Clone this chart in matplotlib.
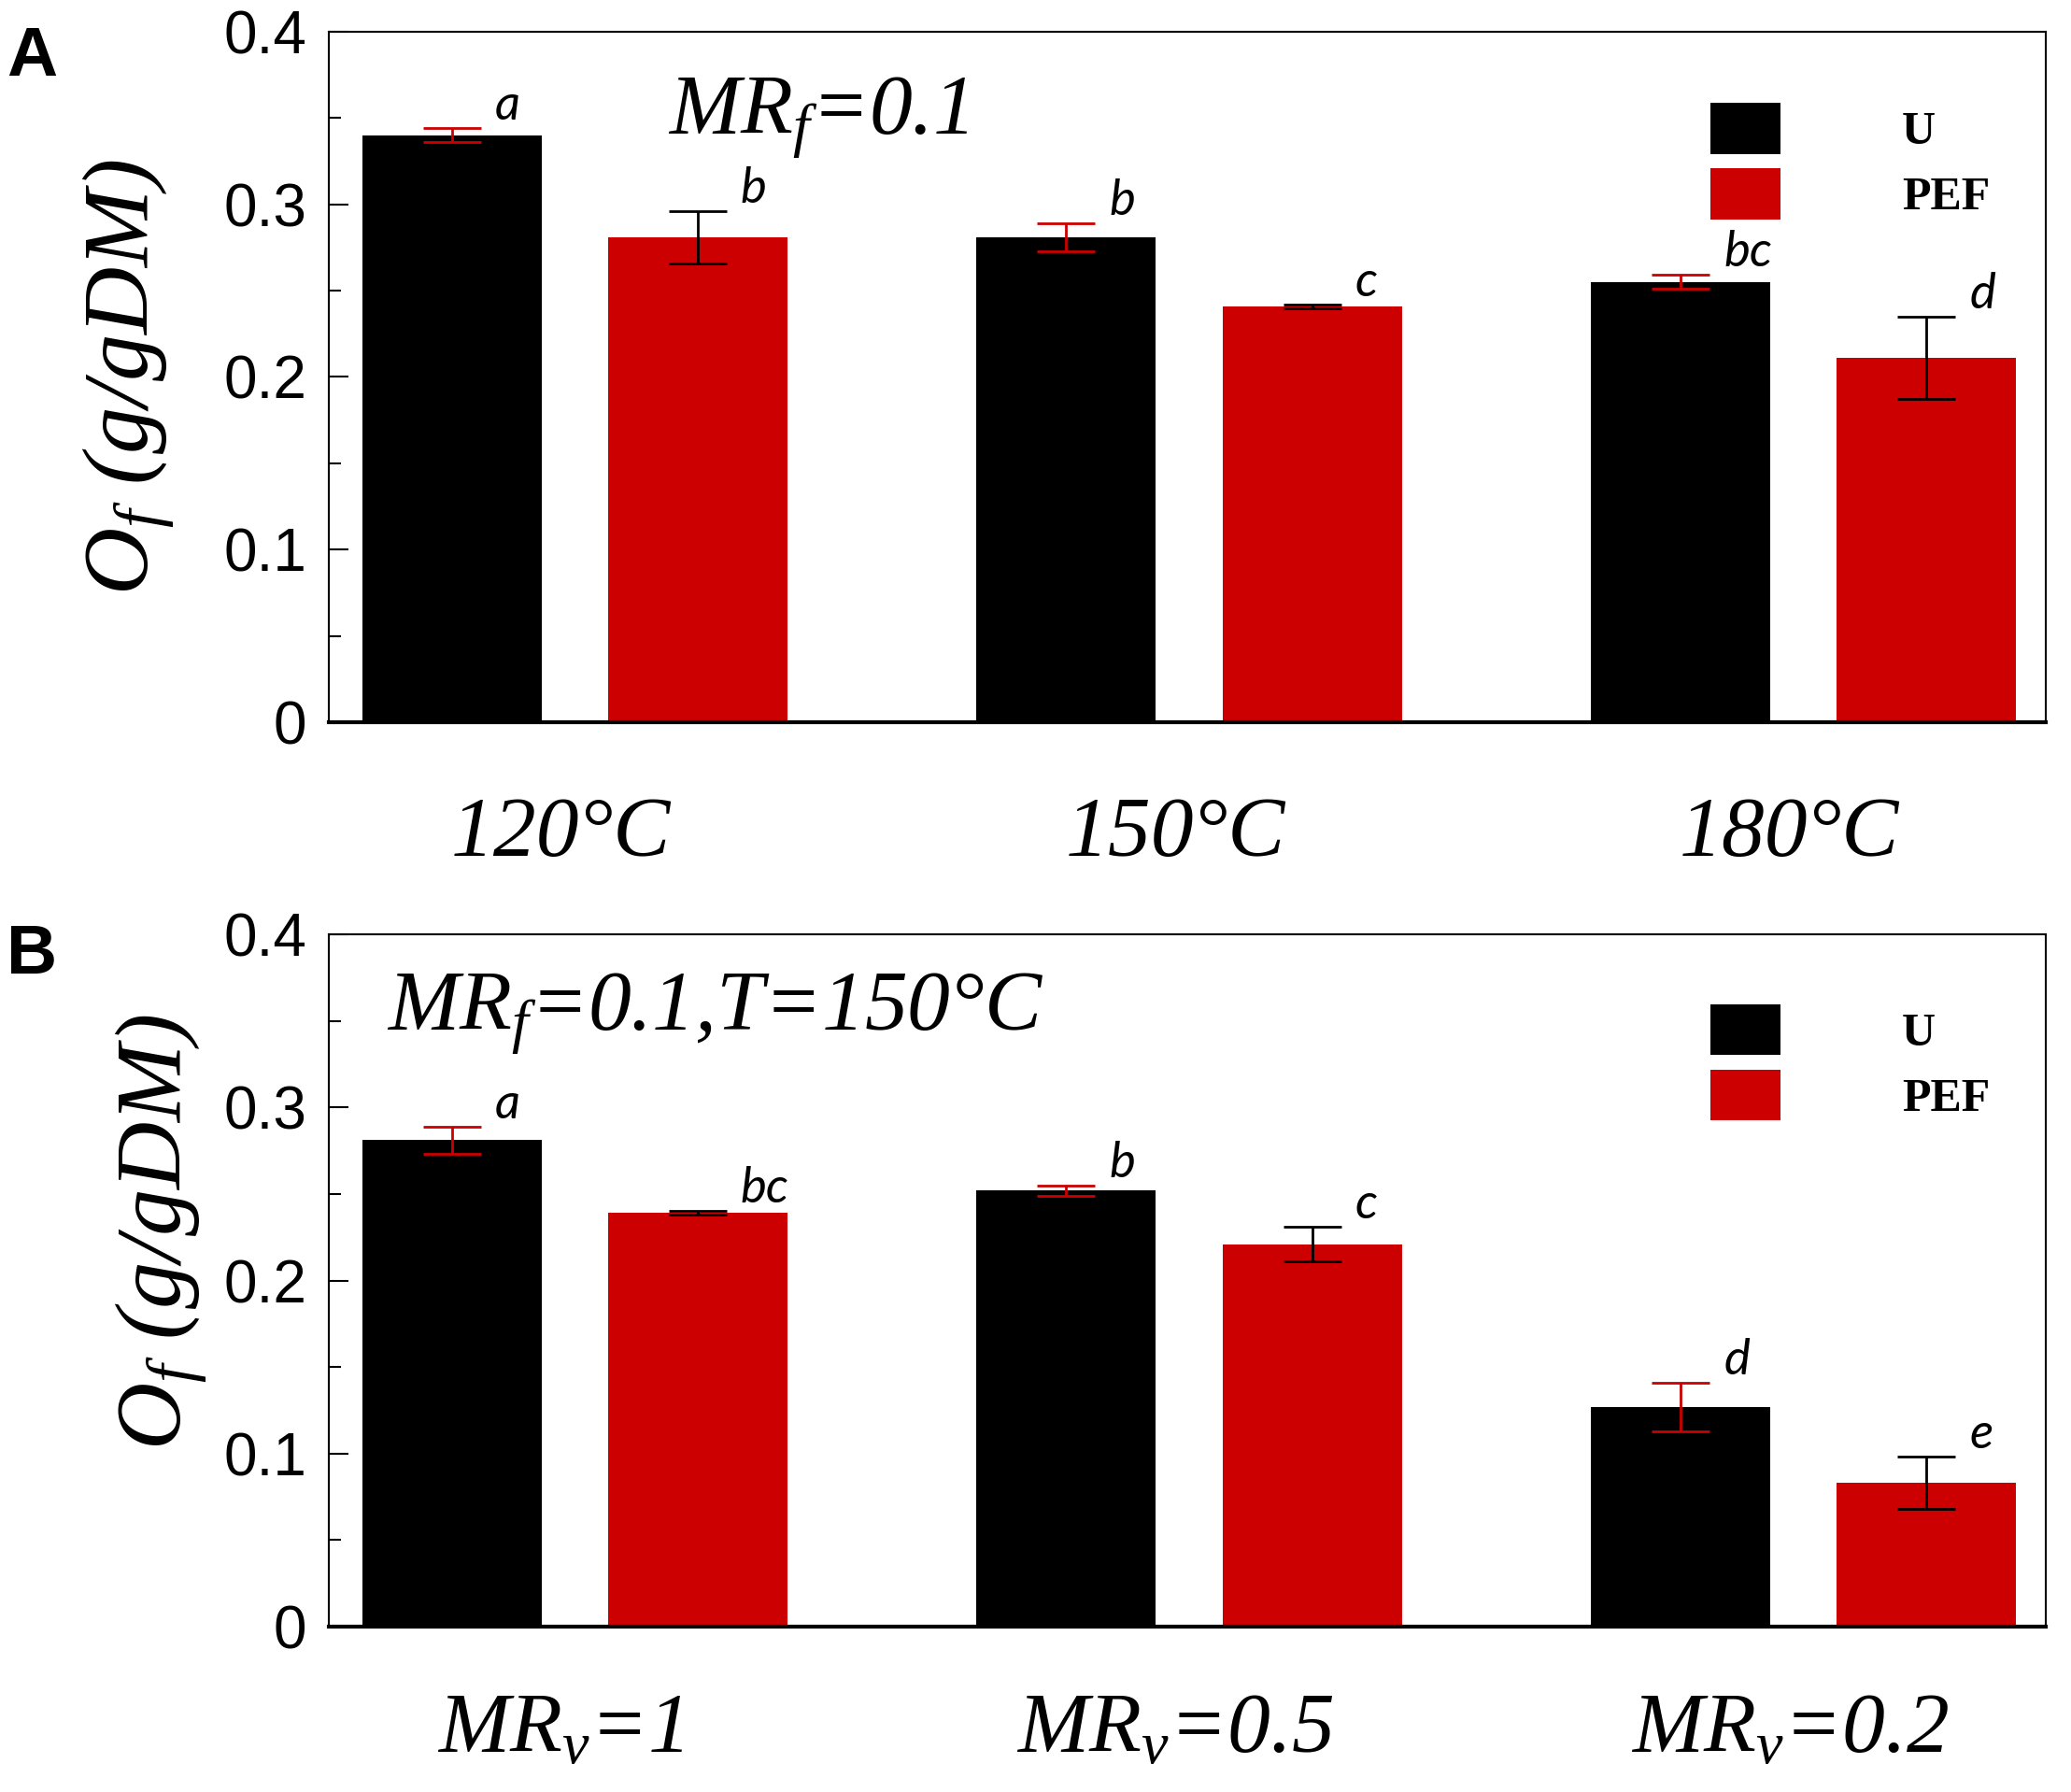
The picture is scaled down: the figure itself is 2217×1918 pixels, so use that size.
import matplotlib.pyplot as plt
import matplotlib.transforms as mtransforms
import numpy as np
from matplotlib.ticker import MultipleLocator

plt.rcParams["font.family"] = ["Liberation Sans", "DejaVu Sans"]
plt.rcParams["mathtext.fontset"] = "custom"
plt.rcParams["mathtext.rm"] = "Liberation Serif:italic"
plt.rcParams["mathtext.it"] = "Liberation Serif:italic"

# --- data ---
series = ["U", "PEF"]
bar_colors = ["#000000", "#cc0000"]
err_colors = ["#cc0000", "#000000"]

cats_a = ["120°C", "150°C", "180°C"]
u_a = [0.340, 0.281, 0.255]
u_err_a = [0.004, 0.008, 0.004]
pef_a = [0.281, 0.241, 0.211]
pef_err_a = [0.015, 0.001, 0.024]
letters_u_a = ["a", "b", "bc"]
letters_pef_a = ["b", "c", "d"]

cats_b = [r"$MR_v$=1", r"$MR_v$=0.5", r"$MR_v$=0.2"]
u_b = [0.281, 0.252, 0.127]
u_err_b = [0.008, 0.003, 0.014]
pef_b = [0.239, 0.221, 0.083]
pef_err_b = [0.001, 0.010, 0.015]
letters_u_b = ["a", "b", "d"]
letters_pef_b = ["bc", "c", "e"]

ytick_vals = [0, 0.1, 0.2, 0.3, 0.4]
ytick_labels = ["0", "0.1", "0.2", "0.3", "0.4"]

SERIF_IT = {"family": "Liberation Serif", "style": "italic"}


def draw_panel(ax, cats, u, u_err, pef, pef_err, let_u, let_pef,
               note, note_xy, xpad, ylab_xy, leg_y):
    x = np.arange(len(cats))
    width = 0.292
    groups = [(u, u_err, let_u, -0.2), (pef, pef_err, let_pef, 0.2)]
    for (vals, errs, lets, dx), name, bc, ec in zip(groups, series,
                                                    bar_colors, err_colors):
        ax.bar(x + dx, vals, width, color=bc, label=name, zorder=2)
        ax.errorbar(x + dx, vals, yerr=errs, fmt="none", ecolor=ec,
                    elinewidth=2, capsize=22, capthick=2, zorder=3)
        for xi, v, e, t in zip(x + dx, vals, errs, lets):
            ax.text(xi + 0.07, v + e + 0.013, t, ha="left", va="center",
                    fontsize=38, family="Lato", style="italic")

    ax.set_xlim(-0.40, 2.394)
    ax.set_ylim(0, 0.4)
    ax.set_yticks(ytick_vals, ytick_labels)
    ax.yaxis.set_minor_locator(MultipleLocator(0.05))
    ax.tick_params(axis="y", which="both", direction="in", right=False,
                   labelsize=46, pad=17, width=1.5)
    ax.tick_params(axis="y", which="major", length=15)
    ax.tick_params(axis="y", which="minor", length=9)
    ax.set_xticks(x, cats, fontsize=66, **SERIF_IT)
    ax.tick_params(axis="x", length=0, pad=xpad)
    # labels sit a little left of the group centres in the original
    shift = mtransforms.ScaledTranslation(-0.15, 0, ax.figure.dpi_scale_trans)
    for lab in ax.get_xticklabels():
        lab.set_transform(lab.get_transform() + shift)

    for side in ["left", "top", "right"]:
        ax.spines[side].set_linewidth(1.5)
    ax.spines["bottom"].set_linewidth(3)

    ax.set_ylabel(r"$O_f\ (g/gDM)$", fontsize=72)
    ax.yaxis.set_label_coords(*ylab_xy)

    ax.text(note_xy[0], note_xy[1], note, transform=ax.transAxes,
            fontsize=66, va="baseline", ha="left", **SERIF_IT)

    ax.legend(frameon=False, loc="upper left", bbox_to_anchor=(0.8047, leg_y),
              prop={"family": "Liberation Serif", "weight": "bold", "size": 36},
              handlelength=1.5, handleheight=1.3, handletextpad=2.6,
              labelspacing=0.3, borderpad=0, borderaxespad=0)


fig = plt.figure(figsize=(22.17, 19.18), dpi=100)
ax_a = fig.add_axes([0.1588, 0.597, 0.829, 0.3853])
ax_b = fig.add_axes([0.1588, 0.0923, 0.829, 0.3863])

draw_panel(ax_a, cats_a, u_a, u_err_a, pef_a, pef_err_a,
           letters_u_a, letters_pef_a, r"$MR_f$=0.1", (0.1975, 0.851),
           57, (-0.088, 0.5), 0.897)
draw_panel(ax_b, cats_b, u_b, u_err_b, pef_b, pef_err_b,
           letters_u_b, letters_pef_b, r"$MR_f$=0.1,T=150°C", (0.0337, 0.860),
           51, (-0.069, 0.57), 0.899)

fig.text(0.003, 0.9857, "A", fontsize=54, fontweight="bold", va="top", ha="left")
fig.text(0.003, 0.4851, "B", fontsize=54, fontweight="bold", va="top", ha="left")

fig.savefig("out.png", dpi=100)
